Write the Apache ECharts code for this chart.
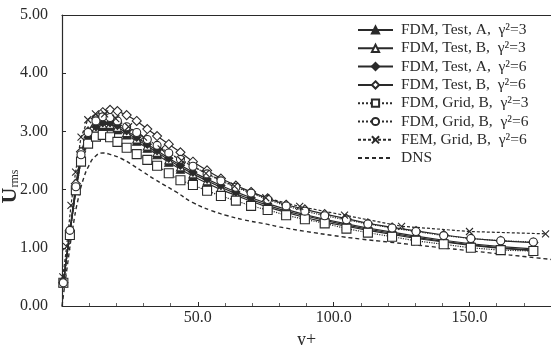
<!DOCTYPE html>
<html>
<head>
<meta charset="utf-8">
<script src="https://cdn.jsdelivr.net/npm/echarts@6/dist/echarts.min.js"></script>
<style>
  html, body { margin: 0; padding: 0; background: #fff; }
  #chart { width: 551px; height: 345px; }
</style>
</head>
<body>
<div id="chart"></div>
<script>
// y+ positions of the FDM grid points
var yPlus = [0.5, 2.9, 5.1, 7, 9.6, 12.5, 15, 17.7, 20.4, 23.8, 27.5, 31.4, 35, 39.3, 43.6, 48.2,
  53.4, 58.5, 64, 69.6, 75.7, 82.5, 89.4, 96.7, 104.7, 112.6, 121.5, 130.3, 140.5, 150.5, 161.5, 173.5];

var testA3 = [0.4, 1.25, 1.98, 2.5, 2.84, 3.02, 3.08, 3.08, 3.03, 2.94, 2.83, 2.71, 2.6, 2.47, 2.35, 2.23,
  2.11, 2.0, 1.9, 1.8, 1.7, 1.61, 1.52, 1.44, 1.37, 1.3, 1.23, 1.16, 1.1, 1.04, 0.99, 0.95];
var testB3 = [0.4, 1.27, 2.0, 2.52, 2.87, 3.05, 3.12, 3.12, 3.07, 2.98, 2.87, 2.75, 2.64, 2.51, 2.39, 2.27,
  2.15, 2.04, 1.93, 1.83, 1.73, 1.63, 1.55, 1.47, 1.39, 1.32, 1.25, 1.18, 1.11, 1.05, 1.0, 0.96];
var testA6 = [0.4, 1.28, 2.02, 2.55, 2.9, 3.08, 3.15, 3.15, 3.1, 3.01, 2.9, 2.78, 2.67, 2.54, 2.42, 2.3,
  2.18, 2.07, 1.96, 1.86, 1.76, 1.66, 1.57, 1.49, 1.41, 1.34, 1.27, 1.2, 1.13, 1.07, 1.02, 0.98];
var testB6 = [0.4, 1.3, 2.1, 2.65, 3.0, 3.22, 3.33, 3.37, 3.35, 3.28, 3.18, 3.04, 2.92, 2.78, 2.64, 2.48,
  2.33, 2.19, 2.07, 1.96, 1.85, 1.74, 1.66, 1.58, 1.5, 1.42, 1.35, 1.29, 1.22, 1.16, 1.12, 1.09];
var gridB3 = [0.4, 1.22, 1.99, 2.48, 2.79, 2.91, 2.94, 2.9, 2.82, 2.72, 2.61, 2.51, 2.41, 2.28, 2.16, 2.08,
  1.98, 1.89, 1.81, 1.72, 1.65, 1.56, 1.49, 1.42, 1.33, 1.26, 1.19, 1.12, 1.06, 1.0, 0.96, 0.945];
var gridB6 = [0.4, 1.3, 2.05, 2.6, 2.98, 3.18, 3.25, 3.24, 3.18, 3.08, 2.98, 2.86, 2.76, 2.63, 2.52, 2.4,
  2.27, 2.15, 2.04, 1.94, 1.83, 1.72, 1.63, 1.55, 1.48, 1.41, 1.34, 1.28, 1.21, 1.16, 1.12, 1.1];

// FEM grid is coarser
var femYPlus = [0.3, 1.7, 3.3, 5, 7, 9.5, 12.3, 15.7, 19.8, 24.5, 30, 36.5, 44, 53, 63.5, 75, 87.5, 104, 125, 150, 178];
var femB6 = [0.5, 1.02, 1.73, 2.3, 2.9, 3.2, 3.3, 3.3, 3.22, 3.08, 2.9, 2.7, 2.5, 2.28, 2.06, 1.86, 1.71, 1.56, 1.37, 1.28, 1.24];

var dnsYPlus = [0, 2, 4, 6, 8, 10, 12, 15, 18, 22, 26, 30, 34, 38, 42, 48, 55, 61, 67, 75, 80, 90, 100, 110, 120, 130, 140, 150, 160, 170, 180];
var dns = [0, 0.7, 1.35, 1.85, 2.2, 2.42, 2.56, 2.63, 2.6, 2.53, 2.42, 2.3, 2.18, 2.07, 1.96, 1.78, 1.64, 1.55, 1.48, 1.41, 1.36, 1.28, 1.21, 1.15, 1.1, 1.05, 1.0, 0.95, 0.9, 0.85, 0.8];

var names = ['FDM, Test, A,  γ²=3', 'FDM, Test, B,  γ²=3', 'FDM, Test, A,  γ²=6', 'FDM, Test, B,  γ²=6',
  'FDM, Grid, B,  γ²=3', 'FDM, Grid, B,  γ²=6', 'FEM, Grid, B,  γ²=6', 'DNS'];

var ink = '#2a2a2a';
var serif = '"Liberation Serif", "DejaVu Serif", serif';

function pairs(xs, ys) {
  return xs.map(function (x, i) { return [x, ys[i]]; });
}

function mk(name, xs, ys, symbol, size, filled, dash) {
  return {
    name: name,
    type: 'line',
    data: pairs(xs, ys),
    symbol: symbol,
    symbolSize: size,
    showAllSymbol: true,
    lineStyle: { color: ink, width: 1.2, type: dash || 'solid' },
    itemStyle: { color: filled ? ink : '#fff', borderColor: ink, borderWidth: 1.1 },
    emphasis: { disabled: true },
    animation: false
  };
}

var chart = echarts.init(document.getElementById('chart'));

var legendData = names.map(function (n) {
  // DNS has no marker, only the dashed line
  return n === 'DNS' ? { name: n, itemStyle: { opacity: 0 } } : { name: n };
});

var option = {
  backgroundColor: '#fff',
  animation: false,
  grid: { left: 62, right: 0, top: 15, bottom: 39, outerBoundsMode: 'none', containLabel: false },
  legend: {
    orient: 'vertical',
    left: 352,
    top: 17,
    itemWidth: 35,
    itemHeight: 9,
    itemGap: 2.3,
    data: legendData,
    textStyle: { fontFamily: serif, fontSize: 15.5, lineHeight: 16, color: ink, padding: [0, 0, 0, 3] }
  },
  xAxis: [{
    type: 'value',
    min: 0,
    max: 180,
    interval: 50,
    name: 'y+',
    nameLocation: 'middle',
    nameGap: 20,
    nameTextStyle: { fontFamily: serif, fontSize: 18, color: ink },
    axisLine: { onZero: false, lineStyle: { color: ink, width: 1.2 } },
    axisTick: { inside: true, length: 4, lineStyle: { color: ink } },
    minorTick: { show: true, splitNumber: 5, length: 3, lineStyle: { color: '#666' } },
    splitLine: { show: false },
    axisLabel: {
      fontFamily: serif, fontSize: 16, color: ink, margin: 4,
      showMinLabel: false, showMaxLabel: false,
      formatter: function (v) { return v === 0 ? '' : v.toFixed(1); }
    }
  }, {
    type: 'value',
    position: 'top',
    min: 0,
    max: 180,
    axisLine: { show: true, onZero: false, lineStyle: { color: ink, width: 1.2 } },
    axisTick: { show: false },
    axisLabel: { show: false },
    splitLine: { show: false }
  }],
  yAxis: {
    type: 'value',
    min: 0,
    max: 5,
    interval: 1,
    name: '{u|U}{s|rms}',
    nameLocation: 'middle',
    nameGap: 41,
    nameMoveOverlap: false,
    nameTextStyle: {
      padding: [0, 52, 0, 0],
      rich: {
        u: { fontFamily: serif, fontSize: 22, fontWeight: 'bold', color: ink },
        s: { fontFamily: serif, fontSize: 12, color: ink, verticalAlign: 'bottom', padding: [8, 0, 0, 0] }
      }
    },
    axisLine: { show: true, lineStyle: { color: ink, width: 1.2 } },
    axisTick: { inside: true, length: 4, lineStyle: { color: ink } },
    splitLine: { show: false },
    axisLabel: {
      fontFamily: serif, fontSize: 16, color: ink, margin: 14,
      formatter: function (v) { return v.toFixed(2); }
    }
  },
  series: [
    mk(names[0], yPlus, testA3, 'triangle', 8, true),
    mk(names[1], yPlus, testB3, 'triangle', 8, false),
    mk(names[2], yPlus, testA6, 'diamond', 8, true),
    mk(names[3], yPlus, testB6, 'diamond', 9, false),
    mk(names[4], yPlus, gridB3, 'rect', 9, false, 'dotted'),
    mk(names[5], yPlus, gridB6, 'circle', 8, false, 'dotted'),
    mk(names[6], femYPlus, femB6, 'path://M0,0L10,10M10,0L0,10', 7, false, [3, 2]),
    {
      name: names[7],
      type: 'line',
      data: pairs(dnsYPlus, dns),
      smooth: true,
      symbol: 'none',
      lineStyle: { color: ink, width: 1.4, type: [4, 3] },
      itemStyle: { color: ink },
      animation: false
    }
  ]
};

chart.setOption(option);
</script>
</body>
</html>
